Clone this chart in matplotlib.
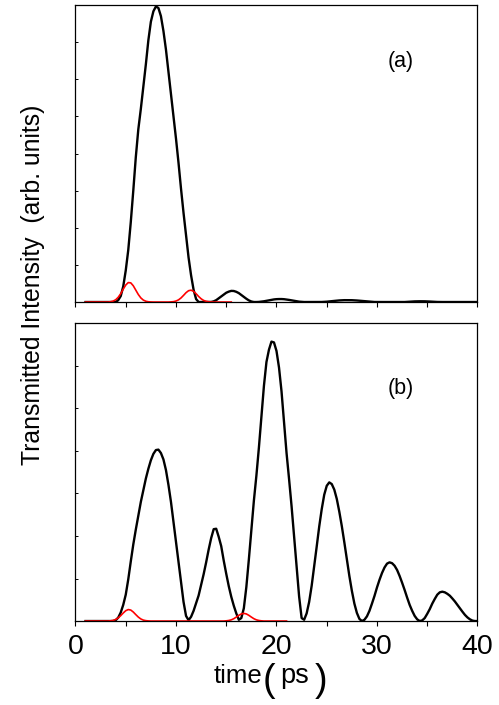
import numpy as np
import matplotlib
matplotlib.use('Agg')
import matplotlib.pyplot as plt
from matplotlib import font_manager
from matplotlib.ticker import MultipleLocator, NullFormatter


# time grids (ps)
time_black = np.arange(1.0, 40.01, 0.25)
time_red_a = np.arange(1.0, 15.51, 0.25)
time_red_b = np.arange(1.0, 21.01, 0.25)

# panel (a): transmitted intensity, arb. units
black_a = [
    0, 0, 0, 0,
    0, 0, 0, 0,
    0, 0, 0, 0,
    0.0, 0.05, 0.16, 0.42,
    0.85, 1.4, 2.15, 3.0,
    3.9, 4.65, 5.2, 5.8,
    6.4, 7.05, 7.55, 7.83,
    7.96, 7.92, 7.7, 7.3,
    6.8, 6.2, 5.6, 5.0,
    4.4, 3.75, 3.05, 2.4,
    1.8, 1.2, 0.72, 0.33,
    0.08, 0.0, 0.0, 0.0,
    0.0, 0.0, 0.002, 0.018,
    0.05, 0.10, 0.15, 0.20,
    0.25, 0.28, 0.30, 0.297,
    0.275, 0.24, 0.19, 0.14,
    0.088, 0.044, 0.014, 0.0,
    0.0, 0.003, 0.01, 0.02,
    0.033, 0.046, 0.06, 0.07,
    0.077, 0.08, 0.08, 0.076,
    0.068, 0.057, 0.045, 0.032,
    0.02, 0.01, 0.004, 0.0,
    0, 0, 0, 0,
    0, 0, 0.001, 0.004,
    0.009, 0.015, 0.022, 0.03,
    0.037, 0.043, 0.047, 0.05,
    0.05, 0.05, 0.049, 0.046,
    0.041, 0.035, 0.028, 0.021,
    0.014, 0.008, 0.004, 0.001,
    0, 0, 0, 0,
    0, 0, 0, 0,
    0, 0, 0, 0,
    0.005, 0.009, 0.013, 0.017,
    0.019, 0.02, 0.02, 0.019,
    0.017, 0.013, 0.009, 0.005,
    0.002, 0, 0, 0,
    0, 0, 0, 0,
    0, 0, 0, 0,
    0, 0, 0, 0,
    0,
]

red_a = [
    0, 0, 0, 0,
    0, 0, 0, 0,
    0, 0, 0.009, 0.026,
    0.061, 0.127, 0.225, 0.346,
    0.458, 0.524, 0.516, 0.438,
    0.32, 0.203, 0.111, 0.052,
    0.021, 0.007, 0.002, 0,
    0, 0, 0, 0,
    0, 0, 0.004, 0.01,
    0.027, 0.058, 0.11, 0.179,
    0.252, 0.305, 0.319, 0.288,
    0.224, 0.15, 0.087, 0.043,
    0.019, 0.007, 0.002, 0,
    0, 0, 0, 0,
    0, 0, 0,
]

# panel (b)
black_b = [
    0, 0, 0, 0,
    0, 0, 0, 0,
    0, 0, 0, 0,
    0.02, 0.08, 0.2, 0.38,
    0.62, 0.98, 1.4, 1.8,
    2.15, 2.48, 2.8, 3.08,
    3.35, 3.58, 3.78, 3.93,
    4.02, 4.03, 3.95, 3.8,
    3.55, 3.2, 2.8, 2.33,
    1.85, 1.37, 0.9, 0.45,
    0.12, 0.02, 0.1, 0.24,
    0.42, 0.6, 0.85, 1.1,
    1.38, 1.68, 1.95, 2.16,
    2.17, 1.98, 1.76, 1.42,
    1.11, 0.82, 0.57, 0.36,
    0.18, 0.03, 0.07, 0.3,
    0.8, 1.45, 2.14, 2.83,
    3.42, 4.08, 4.8, 5.53,
    6.09, 6.38, 6.57, 6.55,
    6.35, 5.96, 5.40, 4.66,
    3.95, 3.34, 2.70, 2.0,
    1.32, 0.58, 0.07, 0.03,
    0.18, 0.45, 0.83, 1.28,
    1.75, 2.22, 2.63, 2.97,
    3.18, 3.26, 3.22, 3.09,
    2.87, 2.57, 2.23, 1.85,
    1.45, 1.06, 0.71, 0.41,
    0.19, 0.05, 0.0, 0.03,
    0.11, 0.24, 0.41, 0.59,
    0.79, 0.97, 1.13, 1.26,
    1.35, 1.38, 1.36, 1.30,
    1.20, 1.06, 0.90, 0.73,
    0.55, 0.38, 0.24, 0.12,
    0.04, 0.0, 0.015, 0.07,
    0.17, 0.28, 0.41, 0.52,
    0.62, 0.675, 0.69, 0.675,
    0.64, 0.595, 0.53, 0.46,
    0.38, 0.30, 0.22, 0.145,
    0.085, 0.04, 0.01, 0.0,
    0.0,
]

red_b = [
    0, 0, 0, 0,
    0, 0, 0, 0,
    0, 0, 0.006, 0.016,
    0.037, 0.074, 0.127, 0.189,
    0.243, 0.27, 0.258, 0.212,
    0.151, 0.093, 0.049, 0.022,
    0.009, 0.003, 0, 0,
    0, 0, 0, 0,
    0, 0, 0, 0,
    0, 0, 0, 0,
    0, 0, 0, 0,
    0, 0, 0, 0,
    0, 0, 0, 0,
    0, 0, 0, 0,
    0.005, 0.013, 0.028, 0.055,
    0.093, 0.134, 0.167, 0.18,
    0.167, 0.134, 0.093, 0.055,
    0.028, 0.013, 0.005, 0,
    0, 0, 0, 0,
    0, 0, 0, 0,
    0,
]

x_ticks = [0, 10, 20, 30, 40]
panel_labels = ['(a)', '(b)']
y_label = 'Transmitted Intensity  (arb. units)'


def pick_font(*names):
    """Return the first installed family from names"""
    installed = {f.name for f in font_manager.fontManager.ttflist}
    for name in names:
        if name in installed:
            return name
    return 'DejaVu Sans'


def style_axis(ax, ymax):
    ax.set_xlim(0, 40)
    ax.set_ylim(0, ymax)
    ax.xaxis.set_major_locator(MultipleLocator(10))
    ax.xaxis.set_minor_locator(MultipleLocator(5))
    ax.yaxis.set_major_locator(MultipleLocator(1))
    ax.yaxis.set_major_formatter(NullFormatter())
    ax.tick_params(axis='x', which='both', direction='out', length=3.6,
                   width=0.8, top=False, pad=6)
    ax.tick_params(axis='y', which='both', direction='in', length=2,
                   width=0.7, right=False)
    for spine in ax.spines.values():
        spine.set_linewidth(0.9)


def main():
    regular = pick_font('Liberation Sans', 'Arial')
    plt.rcParams['font.family'] = regular

    fig = plt.figure(figsize=(4.99, 7.05), dpi=100)
    ax_a = fig.add_axes([0.1513, 0.5716, 0.8056, 0.4213])
    ax_b = fig.add_axes([0.1513, 0.1191, 0.8056, 0.4223])

    # (a)
    ax_a.plot(time_black, black_a, color='black', lw=1.7)
    ax_a.plot(time_red_a, red_a, color='red', lw=1.2)
    style_axis(ax_a, 8)
    ax_a.xaxis.set_major_formatter(NullFormatter())
    ax_a.text(0.81, 0.81, panel_labels[0], transform=ax_a.transAxes,
              ha='center', va='center', fontsize=15.5)

    # (b)
    ax_b.plot(time_black, black_b, color='black', lw=1.7)
    ax_b.plot(time_red_b, red_b, color='red', lw=1.2)
    style_axis(ax_b, 7)
    ax_b.set_xticks(x_ticks)
    ax_b.set_xticklabels([str(v) for v in x_ticks], fontsize=20.5)
    ax_b.text(0.81, 0.78, panel_labels[1], transform=ax_b.transAxes,
              ha='center', va='center', fontsize=15.5)

    # axis titles, placed in figure pixels
    W, H = 499.0, 705.0
    fig.text(33 / W, 1 - 285 / H, y_label, rotation=90, ha='center',
             va='center', fontsize=17.8)
    fig.text(238 / W, 1 - 683 / H, 'time', ha='center', va='baseline',
             fontsize=18.5)
    fig.text(268.5 / W, 1 - 681 / H, '(', ha='center', va='center',
             fontsize=27)
    fig.text(294.5 / W, 1 - 683 / H, 'ps', ha='center', va='baseline',
             fontsize=19.5)
    fig.text(321.5 / W, 1 - 681 / H, ')', ha='center', va='center',
             fontsize=27)

    fig.savefig('out.png', dpi=100)
    print("saved out.png")


if __name__ == "__main__":
    main()
